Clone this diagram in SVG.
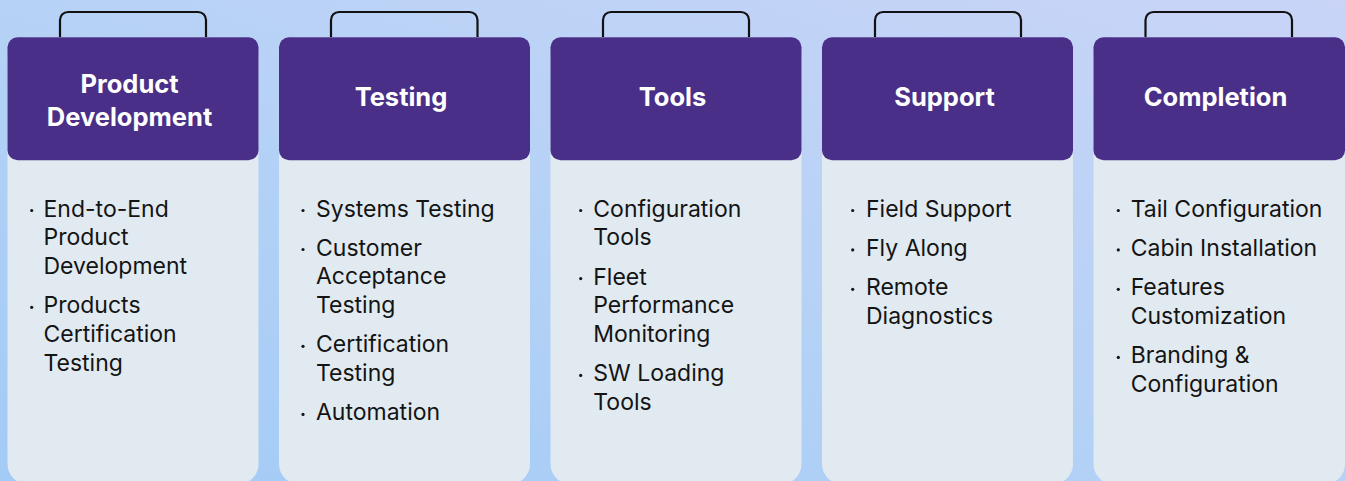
<svg xmlns="http://www.w3.org/2000/svg" width="1346" height="481" viewBox="0 0 1346 481">
<defs>
<linearGradient id="bg" x1="0" y1="1" x2="1" y2="0">
<stop offset="0" stop-color="#a2cbf6"/>
<stop offset="0.5" stop-color="#b6d2f6"/>
<stop offset="1" stop-color="#c9d4f7"/>
</linearGradient>
<style>
.handle{fill:none;stroke:#111111;stroke-width:2.2;stroke-linejoin:round}
.body{fill:#e1eaf1}
.head{fill:#4a2f88}
.title{font-family:Inter,"Liberation Sans",sans-serif;font-weight:700;font-size:25.5px;fill:#ffffff;text-anchor:middle}
.item{font-family:Inter,"Liberation Sans",sans-serif;font-size:23px;fill:#141414}
.dot{fill:#141414}
</style>
</defs>
<rect x="0" y="0" width="1346" height="481" fill="url(#bg)"/>
<g id="connectors"></g>

<g id="card-product-development">
<path class="handle" d="M60,37 V20 a8,8 0 0 1 8,-8 H198 a8,8 0 0 1 8,8 V37"/>
<rect class="body" x="7.5" y="37" width="251" height="447" rx="20"/>
<rect class="head" x="7.5" y="37.3" width="251" height="123" rx="10"/>
<text class="title" x="129.5" y="93.3">Product</text>
<text class="title" x="129.5" y="126">Development</text>
<circle class="dot" cx="31.7" cy="210.5" r="1.6"/>
<text class="item" x="43.5" y="216.5">End-to-End</text>
<text class="item" x="43.5" y="245.2">Product</text>
<text class="item" x="43.5" y="273.9">Development</text>
<circle class="dot" cx="31.7" cy="307.3" r="1.6"/>
<text class="item" x="43.5" y="313.3">Products</text>
<text class="item" x="43.5" y="342">Certification</text>
<text class="item" x="43.5" y="370.7">Testing</text>
</g>

<g id="card-testing">
<path class="handle" d="M331,37 V20 a8,8 0 0 1 8,-8 H469.5 a8,8 0 0 1 8,8 V37"/>
<rect class="body" x="279" y="37" width="251" height="447" rx="20"/>
<rect class="head" x="279" y="37.3" width="251" height="123" rx="10"/>
<text class="title" x="401" y="106">Testing</text>
<circle class="dot" cx="303" cy="210.5" r="1.6"/>
<text class="item" x="316" y="216.5">Systems Testing</text>
<circle class="dot" cx="303" cy="249.5" r="1.6"/>
<text class="item" x="316" y="255.5">Customer</text>
<text class="item" x="316" y="284.2">Acceptance</text>
<text class="item" x="316" y="312.9">Testing</text>
<circle class="dot" cx="303" cy="346.3" r="1.6"/>
<text class="item" x="316" y="352.3">Certification</text>
<text class="item" x="316" y="381">Testing</text>
<circle class="dot" cx="303" cy="414.4" r="1.6"/>
<text class="item" x="316" y="420.4">Automation</text>
</g>

<g id="card-tools">
<path class="handle" d="M603,37 V20 a8,8 0 0 1 8,-8 H741 a8,8 0 0 1 8,8 V37"/>
<rect class="body" x="550.5" y="37" width="251" height="447" rx="20"/>
<rect class="head" x="550.5" y="37.3" width="251" height="123" rx="10"/>
<text class="title" x="672.5" y="106">Tools</text>
<circle class="dot" cx="580.7" cy="210.5" r="1.6"/>
<text class="item" x="593.3" y="216.5">Configuration</text>
<text class="item" x="593.3" y="245.2">Tools</text>
<circle class="dot" cx="580.7" cy="278.6" r="1.6"/>
<text class="item" x="593.3" y="284.6">Fleet</text>
<text class="item" x="593.3" y="313.3">Performance</text>
<text class="item" x="593.3" y="342">Monitoring</text>
<circle class="dot" cx="580.7" cy="375.4" r="1.6"/>
<text class="item" x="593.3" y="381.4">SW Loading</text>
<text class="item" x="593.3" y="410.1">Tools</text>
</g>

<g id="card-support">
<path class="handle" d="M875,37 V20 a8,8 0 0 1 8,-8 H1013 a8,8 0 0 1 8,8 V37"/>
<rect class="body" x="822" y="37" width="251" height="447" rx="20"/>
<rect class="head" x="822" y="37.3" width="251" height="123" rx="10"/>
<text class="title" x="944.5" y="106">Support</text>
<circle class="dot" cx="852.7" cy="210.5" r="1.6"/>
<text class="item" x="866" y="216.5">Field Support</text>
<circle class="dot" cx="852.7" cy="249.9" r="1.6"/>
<text class="item" x="866" y="255.9">Fly Along</text>
<circle class="dot" cx="852.7" cy="289.3" r="1.6"/>
<text class="item" x="866" y="295.3">Remote</text>
<text class="item" x="866" y="324">Diagnostics</text>
</g>

<g id="card-completion">
<path class="handle" d="M1145.5,37 V20 a8,8 0 0 1 8,-8 H1284 a8,8 0 0 1 8,8 V37"/>
<rect class="body" x="1093.5" y="37" width="251.5" height="447" rx="20"/>
<rect class="head" x="1093.5" y="37.3" width="251.5" height="123" rx="10"/>
<text class="title" x="1215.5" y="106">Completion</text>
<circle class="dot" cx="1118.3" cy="210.5" r="1.6"/>
<text class="item" x="1130.7" y="216.5">Tail Configuration</text>
<circle class="dot" cx="1118.3" cy="249.9" r="1.6"/>
<text class="item" x="1130.7" y="255.9">Cabin Installation</text>
<circle class="dot" cx="1118.3" cy="289.3" r="1.6"/>
<text class="item" x="1130.7" y="295.3">Features</text>
<text class="item" x="1130.7" y="324">Customization</text>
<circle class="dot" cx="1118.3" cy="357.4" r="1.6"/>
<text class="item" x="1130.7" y="363.4">Branding &amp;</text>
<text class="item" x="1130.7" y="392.1">Configuration</text>
</g>
</svg>
